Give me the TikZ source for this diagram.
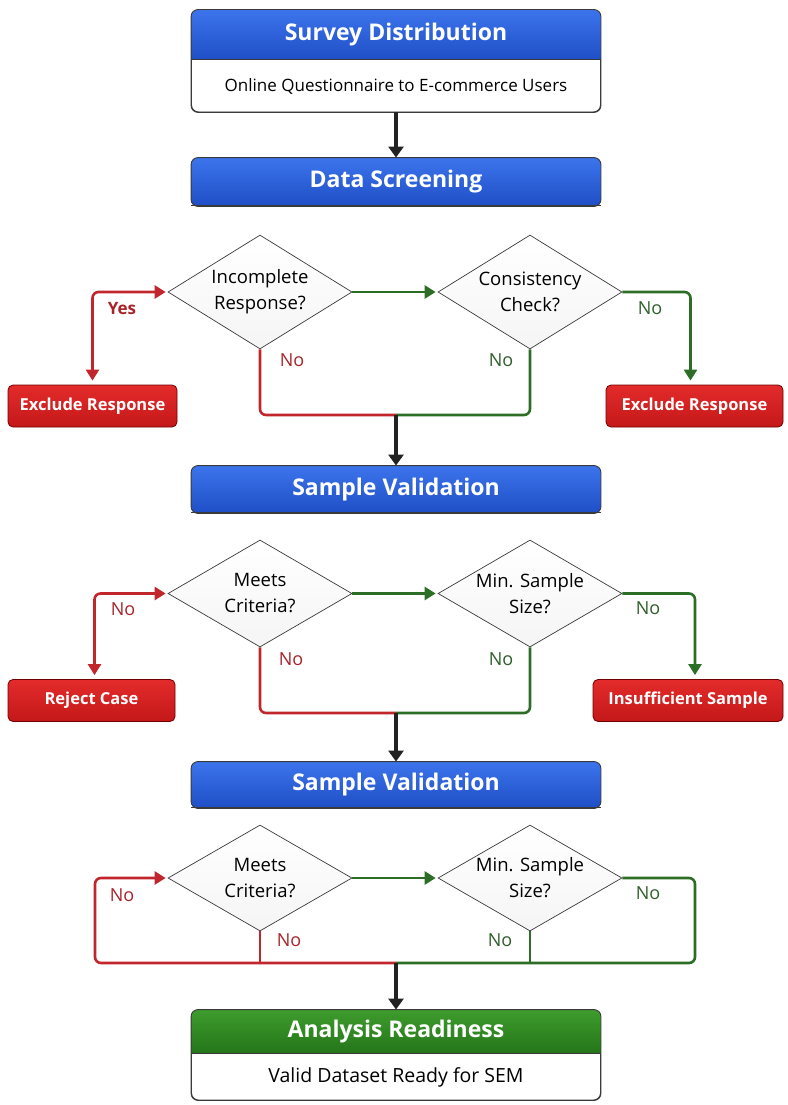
\documentclass[tikz,border=0pt]{standalone}
\usepackage{fontspec}
\setmainfont{Open Sans}
\usetikzlibrary{shapes.geometric,arrows.meta}

\definecolor{blueTop}{HTML}{3C74EC}
\definecolor{blueBot}{HTML}{1F4FC6}
\definecolor{greenTop}{HTML}{3E9C2C}
\definecolor{greenBot}{HTML}{24751A}
\definecolor{redTop}{HTML}{E32B2B}
\definecolor{redBot}{HTML}{C41818}
\definecolor{lineRed}{HTML}{C1262C}
\definecolor{lineGreen}{HTML}{2D6E27}
\definecolor{lblRed}{HTML}{A8242A}
\definecolor{lblGreen}{HTML}{2E5E2A}
\definecolor{frame}{HTML}{3A3A3A}
\definecolor{dark}{HTML}{222222}

\tikzset{
  hdrfont/.style={font=\bfseries\fontsize{23}{27}\selectfont, text=white},
  bodyfont/.style={font=\fontsize{17}{20}\selectfont, text=black},
  outerbox/.style={draw=frame, line width=0.9pt, rounded corners=7pt, fill=white,
    minimum width=409pt, inner sep=0pt},
  decision/.style={diamond, shape aspect=1.65, draw=frame, line width=0.7pt, inner sep=0pt,
    top color=white, bottom color=black!4, minimum width=184pt, minimum height=108pt,
    align=center, font=\fontsize{18.5}{26}\selectfont},
  rejectbox/.style={rectangle, rounded corners=5pt, draw=red!45!black, line width=0.8pt,
    top color=redTop, bottom color=redBot, text=white, inner sep=0pt,
    minimum height=42pt, font=\bfseries\fontsize{16.5}{19}\selectfont},
  tip/.style={-{Triangle[width=13pt,length=11pt]}},
  bothtips/.style={{Triangle[width=13pt,length=11pt]}-{Triangle[width=13pt,length=11pt]}},
  redline/.style={draw=lineRed, line width=2.6pt},
  greenline/.style={draw=lineGreen, line width=2.6pt},
  darkarrow/.style={draw=dark, line width=3.6pt, -{Triangle[width=15pt,length=11pt]}},
  nored/.style={text=lblRed, font=\fontsize{18}{20}\selectfont},
  nogreen/.style={text=lblGreen, font=\fontsize{18}{20}\selectfont},
}

% header strip of a box: shaded band clipped to the rounded frame
\newcommand{\headerband}[4]{% node, height, top colour, bottom colour
  \begin{scope}
    \clip[rounded corners=7pt] (#1.north west) rectangle (#1.south east);
    \shade[top color=#3, bottom color=#4] (#1.north west) rectangle ([yshift=-#2]#1.north east);
  \end{scope}
  \draw[frame, line width=0.9pt] ([yshift=-#2]#1.north west) -- ([yshift=-#2]#1.north east);
  \draw[frame, line width=0.9pt, rounded corners=7pt] (#1.north west) rectangle (#1.south east);
}

\begin{document}
\begin{tikzpicture}[x=1pt, y=-1pt]
\useasboundingbox (0,0) rectangle (787,1105);

% ---------- Survey distribution ----------
\node[outerbox, minimum height=102pt] (sd) at (396,61) {};
\headerband{sd}{50pt}{blueTop}{blueBot}
\node[hdrfont] (sdh) at (396,35) {Survey Distribution};
\node[bodyfont] (sdb) at (396,86) {Online Questionnaire to E-commerce Users};

% ---------- Data screening ----------
\node[outerbox, minimum height=48pt] (ds) at (396,182) {};
\headerband{ds}{48pt}{blueTop}{blueBot}
\node[hdrfont] (dsh) at (396,182) {Data Screening};

\draw[darkarrow] (sd.south) -- (ds.north);

% ---------- Screening decisions ----------
\node[decision, minimum height=114pt] (d1) at (260,292) {Incomplete\\Response?};
\node[decision, minimum height=114pt] (d2) at (530,292) {Consistency\\Check?};
\node[rejectbox, minimum width=169pt] (ex1) at (92.5,406) {Exclude Response};
\node[rejectbox, minimum width=177pt] (ex2) at (694.5,406) {Exclude Response};
\coordinate (j1) at (396,415);

\draw[redline, bothtips, rounded corners=6pt, shorten <=4pt, shorten >=2pt] (ex1.north) |- (d1.west);
\draw[greenline, tip, shorten >=2pt] (d1.east) -- (d2.west);
\draw[greenline, tip, rounded corners=6pt, shorten >=4pt] (d2.east) -| ([xshift=-4pt]ex2.north);
\draw[redline, rounded corners=6pt] (d1.south) |- (j1);
\draw[greenline, rounded corners=6pt] (j1) -| (d2.south);

\node[nored, font=\bfseries\fontsize{17}{20}\selectfont] (l1a) at (122,309) {Yes};
\node[nored] (l1b) at (292,360) {No};
\node[nogreen] (l1c) at (501,360) {No};
\node[nogreen] (l1d) at (650,308) {No};

% ---------- Sample validation ----------
\node[outerbox, minimum height=47pt] (sv1) at (396,489.5) {};
\headerband{sv1}{47pt}{blueTop}{blueBot}
\node[hdrfont] (sv1h) at (396,489.5) {Sample Validation};

\draw[darkarrow] (j1) -- (sv1.north);

\node[decision, minimum height=107pt] (d3) at (260,593.5) {Meets\\Criteria?};
\node[decision, minimum height=107pt] (d4) at (530,593.5) {Min. Sample\\Size?};
\node[rejectbox, minimum width=167pt] (rc) at (91.5,700.5) {Reject Case};
\node[rejectbox, minimum width=190pt] (is) at (688,700.5) {Insufficient Sample};
\coordinate (j2) at (396,713);

\draw[redline, bothtips, rounded corners=6pt, shorten <=4pt, shorten >=2pt] ([xshift=3pt]rc.north) |- (d3.west);
\draw[greenline, tip, shorten >=2pt] (d3.east) -- (d4.west);
\draw[greenline, tip, rounded corners=6pt, shorten >=4pt] (d4.east) -| ([xshift=7pt]is.north);
\draw[redline, rounded corners=6pt] (d3.south) |- (j2);
\draw[greenline, rounded corners=6pt] (j2) -| (d4.south);

\node[nored] (l2a) at (123,609) {No};
\node[nored] (l2b) at (291,659) {No};
\node[nogreen] (l2c) at (501,659) {No};
\node[nogreen] (l2d) at (648,608) {No};

% ---------- Second validation ----------
\node[outerbox, minimum height=46pt] (sv2) at (396,785) {};
\headerband{sv2}{46pt}{blueTop}{blueBot}
\node[hdrfont] (sv2h) at (396,785) {Sample Validation};

\draw[darkarrow] (j2) -- (sv2.north);

\node[decision, minimum height=106pt] (d5) at (260,878) {Meets\\Criteria?};
\node[decision, minimum height=106pt] (d6) at (530,878) {Min. Sample\\Size?};
\coordinate (j3) at (396,963);
\coordinate (l3) at (95,963);
\coordinate (r3) at (695,963);

\draw[redline] (d5.south) -- (d5.south |- j3);
\draw[redline, tip, rounded corners=6pt, shorten >=2pt] (j3) -- (l3) |- (d5.west);
\draw[greenline, tip, shorten >=2pt] (d5.east) -- (d6.west);
\draw[greenline] (d6.south) -- (d6.south |- j3);
\draw[greenline, rounded corners=6pt] (d6.east) -| (r3) -- (j3);

\node[nored] (l3a) at (122,895) {No};
\node[nored] (l3b) at (289,940) {No};
\node[nogreen] (l3c) at (500,940) {No};
\node[nogreen] (l3d) at (648,893) {No};

% ---------- Analysis readiness ----------
\node[outerbox, minimum height=90pt] (ar) at (396,1055) {};
\headerband{ar}{44pt}{greenTop}{greenBot}
\node[hdrfont] (arh) at (396,1032) {Analysis Readiness};
\node[bodyfont, font=\fontsize{19.5}{22}\selectfont] (arb) at (396,1077) {Valid Dataset Ready for SEM};

\draw[darkarrow] (j3) -- (ar.north);
\end{tikzpicture}
\end{document}
